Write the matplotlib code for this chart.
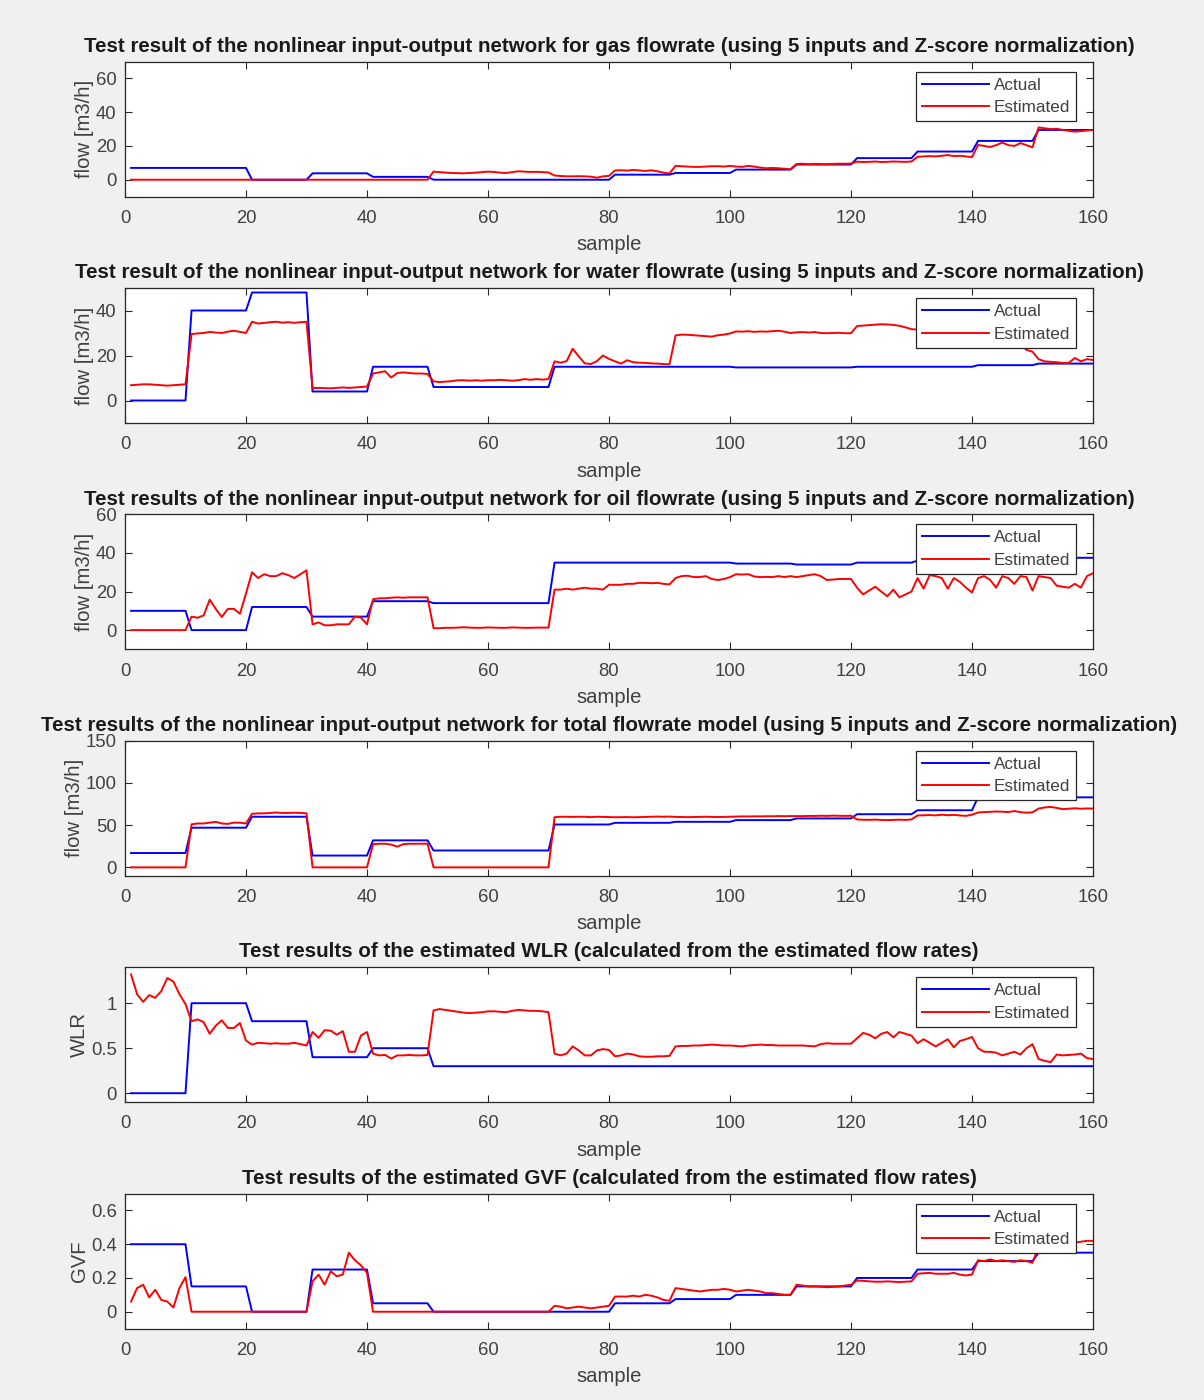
import numpy as np
import matplotlib.pyplot as plt
from matplotlib.ticker import FuncFormatter

plt.rcParams['font.family'] = ['Liberation Sans', 'DejaVu Sans']

sample = np.arange(1, 161)

# actual values are constant over blocks of 10 samples (levels read per block)
gas_actual_lvl = [7, 7, 0, 3.8, 1.7, 0, 0, 0, 3, 4, 6, 9, 12.8, 16.7, 23, 29.5]
water_actual_lvl = [0, 40, 48, 4, 15, 6, 6, 15, 15, 15, 14.7, 14.7, 15, 15, 15.7, 16.4]
oil_actual_lvl = [10, 0, 12, 7, 15, 14, 14, 35, 35, 35, 34.5, 34, 35, 36, 37, 37.5]
total_actual_lvl = [17, 47, 60, 14, 32, 20, 20, 50.8, 52.8, 54, 56, 58, 63, 67.7, 83, 83]
wlr_actual_lvl = [0, 1, 0.8, 0.4, 0.5, 0.3, 0.3, 0.3, 0.3, 0.3, 0.3, 0.3, 0.3, 0.3, 0.3, 0.3]
gvf_actual_lvl = [0.4, 0.15, 0, 0.25, 0.05, 0, 0, 0, 0.05, 0.075, 0.1, 0.15, 0.2, 0.25, 0.3, 0.35]

gas_est = [
    0, 0, 0, 0, 0, 0, 0, 0, 0, 0,
    0, 0, 0, 0, 0, 0, 0, 0, 0, 0,
    0, 0, 0, 0, 0, 0, 0, 0, 0, 0,
    0, 0, 0, 0, 0, 0, 0, 0, 0, 0,
    0, 0, 0, 0, 0, 0, 0, 0, 0, 0,
    4.8, 4.5, 4.2, 4.0, 3.9, 3.8, 4.0, 4.2, 4.5, 4.8,
    4.6, 4.2, 4.0, 4.5, 5.0, 4.8, 4.6, 4.7, 4.5, 4.3,
    2.5, 2.2, 2.0, 2.0, 2.1, 2.0, 1.8, 1.2, 2.0, 2.3,
    5.5, 5.6, 5.4, 5.8, 5.5, 5.2, 5.6, 5.0, 4.2, 3.7,
    8.2, 8.0, 7.8, 7.6, 7.6, 7.8, 8.0, 8.0, 7.8, 8.2,
    7.8, 7.6, 8.2, 7.8, 7.2, 6.8, 7.0, 6.8, 6.5, 6.2,
    9.3, 9.5, 9.2, 9.4, 9.3, 9.2, 9.4, 9.5, 9.5, 9.6,
    10.7, 10.5, 10.6, 10.8, 10.5, 10.6, 10.8, 10.7, 10.6, 10.8,
    13.6, 13.8, 14.0, 13.8, 14.2, 14.6, 14.0, 14.2, 13.8, 13.4,
    20.6, 20.0, 19.4, 20.5, 22.0, 20.5, 20.0, 21.7, 20.5, 19.2,
    31.0, 30.5, 30.0, 30.2, 29.5, 29.0, 28.5, 28.8, 29.2, 29.5,
]

water_est = [
    6.8, 7.0, 7.2, 7.2, 7.0, 6.8, 6.6, 6.8, 7.0, 7.2,
    29.5, 29.8, 30.0, 30.5, 30.2, 30.0, 30.6, 31.0, 30.5, 30.0,
    35.0, 34.2, 34.5, 34.8, 35.0, 34.6, 34.8, 34.5, 34.8, 35.0,
    5.5, 5.6, 5.5, 5.4, 5.6, 5.8, 5.6, 5.8, 6.0, 6.2,
    12.0, 12.5, 13.0, 10.2, 12.2, 12.5, 12.2, 12.0, 12.0, 11.8,
    8.5, 8.2, 8.4, 8.6, 9.0, 9.0, 8.8, 9.0, 8.8, 9.0,
    9.0, 9.2, 9.0, 8.8, 9.0, 9.5, 9.2, 9.5, 9.3, 9.5,
    17.4, 16.8, 17.5, 23.0, 19.6, 16.5, 16.2, 17.5, 20.0, 18.5,
    17.4, 16.4, 17.9, 17.0, 16.8, 16.7, 16.5, 16.4, 16.2, 16.1,
    28.9, 29.3, 29.2, 29.0, 28.8, 28.6, 28.4, 29.0, 29.3, 29.8,
    30.7, 30.6, 30.8, 30.5, 30.7, 30.6, 30.8, 31.0, 30.6, 30.0,
    30.3, 30.4, 30.2, 30.4, 30.0, 29.9, 30.0, 30.1, 29.9, 29.9,
    33.1, 33.3, 33.5, 33.7, 33.9, 33.8, 33.6, 33.2, 32.5, 31.7,
    31.5, 31.8, 32.0, 31.6, 31.4, 31.8, 31.5, 31.2, 31.0, 31.2,
    31.0, 30.8, 30.5, 30.2, 29.5, 28.5, 27.0, 25.0, 22.5, 21.7,
    18.4, 17.4, 17.2, 17.0, 16.7, 16.7, 18.9, 17.4, 18.4, 18.0,
]

oil_est = [
    0, 0, 0, 0, 0, 0, 0, 0, 0, 0,
    7.0, 6.4, 7.6, 15.8, 11.0, 6.8, 11.0, 11.0, 8.5, 19.0,
    30.0, 27.0, 29.0, 28.0, 28.0, 29.5, 28.5, 27.0, 29.0, 31.0,
    3.0, 4.0, 2.5, 2.5, 3.0, 3.0, 3.0, 7.0, 6.5, 3.0,
    16.0, 16.5, 16.5, 16.8, 17.0, 16.8, 17.0, 17.0, 17.0, 17.0,
    1.0, 1.0, 1.2, 1.2, 1.3, 1.5, 1.3, 1.2, 1.2, 1.4,
    1.3, 1.2, 1.2, 1.4, 1.3, 1.2, 1.2, 1.3, 1.3, 1.3,
    21.0, 21.0, 21.5, 21.0, 21.5, 22.0, 21.5, 21.5, 21.0, 23.5,
    23.5, 23.5, 24.0, 24.0, 24.5, 24.5, 24.3, 24.5, 24.0, 23.7,
    27.0, 28.0, 28.2, 27.5, 27.5, 28.0, 26.5, 26.0, 26.5, 27.5,
    29.0, 28.8, 29.0, 27.8, 27.5, 27.6, 27.5, 28.0, 27.5, 28.0,
    27.5, 28.0, 28.5, 29.0, 28.0, 26.0, 26.2, 26.5, 26.5, 26.5,
    22.0, 18.5, 20.5, 22.5, 20.0, 17.5, 21.0, 17.0, 18.5, 20.0,
    27.0, 21.5, 28.5, 28.0, 27.0, 21.5, 27.0, 25.0, 22.0, 19.5,
    27.0, 28.0, 26.0, 22.0, 28.0, 27.0, 24.0, 28.0, 27.5, 20.5,
    28.0, 27.5, 27.0, 23.0, 22.5, 22.0, 24.0, 22.0, 28.0, 29.5,
]

total_est = [
    0, 0, 0, 0, 0, 0, 0, 0, 0, 0,
    51.0, 52.0, 52.0, 53.0, 54.0, 52.0, 51.5, 53.0, 53.0, 52.0,
    63.5, 64.0, 64.0, 64.5, 65.0, 64.5, 64.5, 64.8, 64.5, 64.0,
    0, 0, 0, 0, 0, 0, 0, 0, 0, 0,
    27.5, 28.0, 28.0, 27.0, 24.5, 27.5, 28.0, 28.0, 28.0, 28.0,
    0, 0, 0, 0, 0, 0, 0, 0, 0, 0,
    0, 0, 0, 0, 0, 0, 0, 0, 0, 0,
    59.5, 60.0, 60.0, 59.8, 60.0, 60.0, 59.5, 60.0, 59.8, 59.5,
    59.4, 59.5, 59.6, 59.4, 59.5, 59.8, 60.0, 60.2, 60.0, 60.2,
    59.8, 59.6, 59.5, 59.7, 59.9, 60.0, 59.8, 59.6, 59.8, 60.0,
    60.2, 60.4, 60.3, 60.5, 60.4, 60.6, 60.5, 60.8, 60.6, 60.8,
    60.8, 60.7, 61.0, 60.9, 61.2, 61.0, 61.3, 61.2, 61.0, 61.2,
    56.7, 56.5, 56.3, 56.6, 56.2, 56.0, 56.3, 56.5, 56.2, 56.8,
    61.5, 61.8, 62.0, 61.6, 62.4, 61.8, 62.2, 61.5, 61.0, 62.4,
    65.0, 65.5, 65.8, 66.2, 66.0, 65.5, 66.8, 65.4, 64.8, 65.2,
    69.7, 71.0, 71.6, 70.5, 69.0, 69.5, 70.0, 69.5, 69.8, 69.7,
]

wlr_est = [
    1.32, 1.10, 1.015, 1.09, 1.06, 1.135, 1.28, 1.24, 1.10, 0.99,
    0.80, 0.82, 0.79, 0.66, 0.75, 0.81, 0.725, 0.725, 0.78, 0.585,
    0.54, 0.56, 0.555, 0.55, 0.555, 0.55, 0.55, 0.56, 0.545, 0.53,
    0.68, 0.615, 0.70, 0.695, 0.65, 0.69, 0.46, 0.46, 0.64, 0.68,
    0.44, 0.42, 0.425, 0.385, 0.42, 0.42, 0.425, 0.42, 0.42, 0.425,
    0.92, 0.935, 0.925, 0.915, 0.905, 0.895, 0.89, 0.895, 0.90, 0.91,
    0.91, 0.905, 0.90, 0.915, 0.925, 0.92, 0.915, 0.915, 0.91, 0.90,
    0.44, 0.42, 0.44, 0.52, 0.475, 0.42, 0.42, 0.475, 0.49, 0.48,
    0.41, 0.42, 0.44, 0.43, 0.41, 0.405, 0.405, 0.41, 0.41, 0.415,
    0.52, 0.525, 0.525, 0.53, 0.53, 0.535, 0.54, 0.535, 0.53, 0.53,
    0.525, 0.52, 0.53, 0.535, 0.54, 0.535, 0.535, 0.53, 0.53, 0.53,
    0.53, 0.53, 0.525, 0.52, 0.545, 0.555, 0.55, 0.55, 0.55, 0.55,
    0.61, 0.67, 0.65, 0.61, 0.66, 0.68, 0.62, 0.68, 0.66, 0.64,
    0.555, 0.60, 0.56, 0.52, 0.56, 0.60, 0.51, 0.58, 0.60, 0.625,
    0.50, 0.46, 0.46, 0.45, 0.42, 0.44, 0.46, 0.43, 0.50, 0.545,
    0.38, 0.36, 0.345, 0.43, 0.42, 0.425, 0.43, 0.44, 0.39, 0.38,
]

gvf_est = [
    0.06, 0.14, 0.16, 0.085, 0.13, 0.07, 0.06, 0.025, 0.14, 0.205,
    0, 0, 0, 0, 0, 0, 0, 0, 0, 0,
    0, 0, 0, 0, 0, 0, 0, 0, 0, 0,
    0.18, 0.22, 0.16, 0.24, 0.21, 0.22, 0.35, 0.305, 0.275, 0.23,
    0, 0, 0, 0, 0, 0, 0, 0, 0, 0,
    0, 0, 0, 0, 0, 0, 0, 0, 0, 0,
    0, 0, 0, 0, 0, 0, 0, 0, 0, 0,
    0.035, 0.03, 0.02, 0.025, 0.03, 0.025, 0.02, 0.025, 0.03, 0.035,
    0.09, 0.09, 0.09, 0.095, 0.09, 0.10, 0.095, 0.085, 0.07, 0.065,
    0.14, 0.135, 0.13, 0.125, 0.12, 0.125, 0.13, 0.13, 0.135, 0.13,
    0.12, 0.125, 0.13, 0.125, 0.12, 0.11, 0.11, 0.105, 0.10, 0.10,
    0.16, 0.155, 0.15, 0.15, 0.148, 0.145, 0.147, 0.15, 0.155, 0.16,
    0.185, 0.183, 0.18, 0.178, 0.178, 0.18, 0.178, 0.176, 0.178, 0.18,
    0.225, 0.228, 0.23, 0.225, 0.225, 0.225, 0.23, 0.22, 0.215, 0.22,
    0.305, 0.30, 0.31, 0.30, 0.305, 0.30, 0.295, 0.305, 0.30, 0.29,
    0.385, 0.39, 0.395, 0.40, 0.40, 0.405, 0.41, 0.415, 0.42, 0.42,
]

titles = [
    'Test result of the nonlinear input-output network for gas flowrate (using 5 inputs and Z-score normalization)',
    'Test result of the nonlinear input-output network for water flowrate (using 5 inputs and Z-score normalization)',
    'Test results of the nonlinear input-output network for oil flowrate (using 5 inputs and Z-score normalization)',
    'Test results of the nonlinear input-output network for total flowrate model (using 5 inputs and Z-score normalization)',
    'Test results of the estimated WLR (calculated from the estimated flow rates)',
    'Test results of the estimated GVF (calculated from the estimated flow rates)',
]
ylabels = ['flow [m3/h]', 'flow [m3/h]', 'flow [m3/h]', 'flow [m3/h]', 'WLR', 'GVF']
ylims = [(-10, 70), (-10, 50), (-10, 60), (-10, 150), (-0.1, 1.4), (-0.1, 0.7)]
yticks = [[0, 20, 40, 60], [0, 20, 40], [0, 20, 40, 60], [0, 50, 100, 150],
          [0, 0.5, 1], [0, 0.2, 0.4, 0.6]]
xticks = [0, 20, 40, 60, 80, 100, 120, 140, 160]

actual = [gas_actual_lvl, water_actual_lvl, oil_actual_lvl, total_actual_lvl,
          wlr_actual_lvl, gvf_actual_lvl]
estimated = [gas_est, water_est, oil_est, total_est, wlr_est, gvf_est]

W, H = 1204, 1400
fig = plt.figure(figsize=(W / 100, H / 100), dpi=100, facecolor='#f0f0f0')

txt = '#404040'
for i in range(6):
    top = 61.6 + 226.4 * i
    ax = fig.add_axes([125 / W, 1 - (top + 135) / H, 968 / W, 135 / H])
    ax.plot(sample, np.repeat(actual[i], 10), color='#0000ff', lw=1.4, label='Actual')
    ax.plot(sample, estimated[i], color='#ff0000', lw=1.4, label='Estimated')
    ax.set_xlim(0, 160)
    ax.set_ylim(*ylims[i])
    ax.set_xticks(xticks)
    ax.set_yticks(yticks[i])
    ax.yaxis.set_major_formatter(FuncFormatter(lambda v, p: '%g' % v))
    ax.tick_params(direction='in', top=True, right=True, length=5, width=0.8,
                   labelsize=13.3, labelcolor=txt, color='#262626')
    ax.tick_params(axis='x', pad=9.5)
    ax.tick_params(axis='y', pad=6)
    for s in ax.spines.values():
        s.set_color('#262626')
        s.set_linewidth(0.9)
    ax.set_title(titles[i], fontsize=14.8, fontweight='bold', color='#1a1a1a', pad=7)
    ax.set_xlabel('sample', fontsize=14.6, color=txt, labelpad=6)
    ax.set_ylabel(ylabels[i], fontsize=14.6, color=txt, labelpad=1.5)
    leg = ax.legend(loc='upper right', bbox_to_anchor=(1 - 17 / 968, 1 - 10 / 135),
                    borderaxespad=0, fontsize=12.3, fancybox=False, framealpha=1,
                    edgecolor='#262626', handlelength=3.9, handletextpad=0.3,
                    borderpad=0.35, labelspacing=0.45)
    leg.get_frame().set_linewidth(0.9)
    for t in leg.get_texts():
        t.set_color(txt)

fig.savefig('out.png', dpi=100, facecolor=fig.get_facecolor())
